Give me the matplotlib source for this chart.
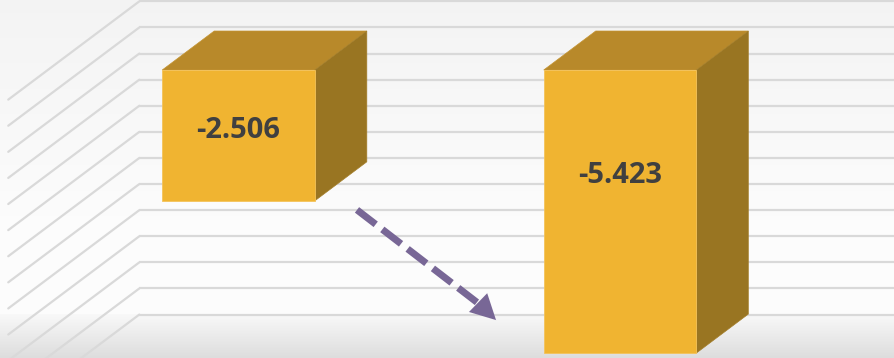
import numpy as np
import matplotlib
matplotlib.use("Agg")
import matplotlib.pyplot as plt
from matplotlib.patches import Polygon

plt.rcParams['lines.scale_dashes'] = False

# ---- data ----
categories = ["A", "B"]
values = [-2.506, -5.423]
labels = ["-2.506", "-5.423"]
grid_values = list(np.arange(0, -6.01, -0.5))

# ---- style / geometry ----
front_c = "#F0B431"
top_c = "#B8892A"
side_c = "#997522"
grid_c = "#D9D9D9"
text_c = "#404040"
arrow_c = "#786796"

bar_w = 0.40
ddx, ddy = 0.1363, 0.747      # one bar-depth in data units
d_back, d_front = 1.76, -0.76  # wall depths
side_x = -0.5
label_frac = [0.465, 0.372]

W, H = 895, 358
fig = plt.figure(figsize=(W / 100, H / 100), dpi=100)
ax = fig.add_axes([0, 0, 1, 1])
ax.set_xlim(-0.6252, 1.7208)
ax.set_ylim(-5.517, 1.341)
ax.axis("off")

# background gradient
rows = np.arange(H)
col = np.empty(H)
for i, y in enumerate(rows):
    if y < 240:
        col[i] = 0.955 + (0.992 - 0.955) * (y / 240)
    elif y < 314:
        col[i] = 0.992
    else:
        t = (y - 314) / (H - 314)
        col[i] = 0.975 - (0.975 - 0.865) * t
img = np.repeat(col[:, None], 4, axis=1)
img = np.dstack([img, img, img])
ax.imshow(img, extent=[0, 1, 0, 1], transform=ax.transAxes, aspect="auto",
          zorder=0, interpolation="bilinear")

# gridlines: back wall + left side wall
xb = side_x + d_back * ddx
xf = side_x + d_front * ddx
for v in grid_values:
    yb = v + d_back * ddy
    yf = v + d_front * ddy
    ax.plot([xb, 2.0], [yb, yb], color=grid_c, lw=1.6, zorder=1,
            solid_capstyle="butt")
    ax.plot([xf, xb], [yf, yb], color=grid_c, lw=1.6, zorder=1,
            solid_capstyle="round")

# bars
xs = np.arange(len(categories))
ax.bar(xs, values, width=bar_w, color=front_c, edgecolor="#F4C35A",
       linewidth=0.6, zorder=4)
for c, v in zip(xs, values):
    l, r = c - bar_w / 2, c + bar_w / 2
    top = Polygon([(l, 0), (r, 0), (r + ddx, ddy), (l + ddx, ddy)],
                  closed=True, facecolor=top_c, edgecolor="#C49433",
                  lw=0.5, zorder=3)
    side = Polygon([(r, 0), (r + ddx, ddy), (r + ddx, v + ddy), (r, v)],
                   closed=True, facecolor=side_c, edgecolor="#A47E2A",
                   lw=0.5, zorder=3)
    ax.add_patch(top)
    ax.add_patch(side)

for c, v, lab, f in zip(xs, values, labels, label_frac):
    ax.text(c, v * f, lab, ha="center", va="center", fontsize=21,
            fontweight="bold", family="Open Sans", color=text_c, zorder=6)

# trend arrow
a_start = (0.3106, -2.68)
a_base = (0.6356, -4.51)
a_tip = (0.675, -4.79)
ax.plot([a_start[0], a_base[0]], [a_start[1], a_base[1]], color=arrow_c,
        lw=5, dashes=(17, 6), solid_capstyle="butt", dash_capstyle="butt",
        zorder=5)
ax.annotate("", xy=a_tip, xytext=a_base,
            arrowprops=dict(arrowstyle="-|>,head_length=0.9,head_width=0.47",
                            mutation_scale=20, color=arrow_c, lw=0.01,
                            shrinkA=0, shrinkB=0), zorder=5)

fig.savefig("out.png", dpi=100)
